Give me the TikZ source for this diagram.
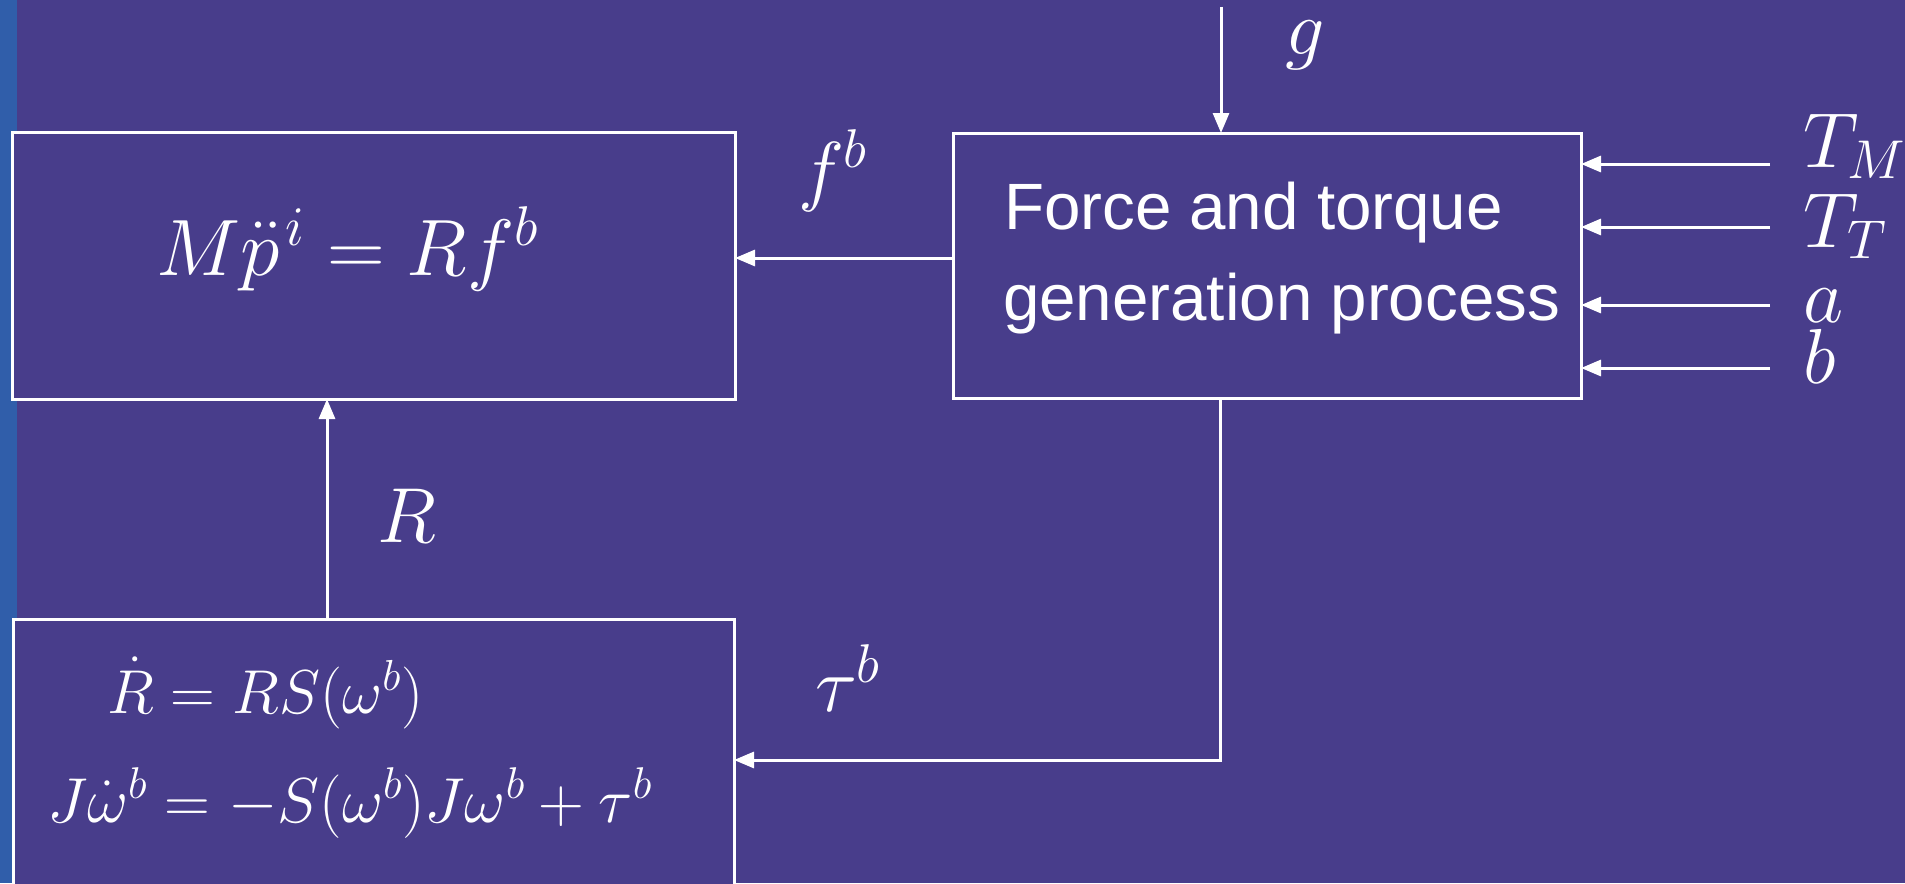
\RequirePackage{fix-cm}
\documentclass[tikz,border=0pt]{standalone}
\usepackage{amsmath}
\usepackage{fontspec}
\setsansfont{Liberation Sans}
\usetikzlibrary{arrows.meta}
\definecolor{bgmain}{RGB}{72,61,139}
\definecolor{bgstrip}{RGB}{48,94,170}
\begin{document}
\begin{tikzpicture}[x=1pt,y=-1pt,
  every node/.style={inner sep=0pt, outer sep=0pt, text=white},
  box/.style={draw=white, line width=3pt, rectangle, fill=bgmain},
  arr/.style={draw=white, line width=3pt, -{Triangle[length=20pt,width=16pt]}},
  lbl/.style={anchor=base west, font=\fontsize{78}{94}\selectfont},
  eqbig/.style={anchor=base west, font=\fontsize{80}{96}\selectfont},
  eqsmall/.style={anchor=base west, font=\fontsize{62}{74}\selectfont},
  eqsmallb/.style={anchor=base west, font=\fontsize{63.5}{76}\selectfont},
  sftext/.style={anchor=base west, font=\sffamily\fontsize{65.5}{91}\selectfont}]
\useasboundingbox (0,0) rectangle (1905,883);
\clip (0,0) rectangle (1905,883);
\fill[bgmain] (0,0) rectangle (1905,883);
\fill[bgstrip] (0,0) rectangle (17,883);
% boxes
\node[box, minimum width=723pt, minimum height=267pt] (dyn) at (373.5,265.5) {};
\node[box, minimum width=628pt, minimum height=265pt] (force) at (1267,265.5) {};
\node[box, minimum width=720.5pt, minimum height=332pt] (rot) at (373.75,785) {};
% box texts
\node[eqbig] (eqdyn) at (156,275) {$M\ddot{p}\vphantom{\ddot{p}}^{\mkern2mu i} = Rf^b$};
\node[sftext] (ft1) at (1004,229) {Force and torque};
\node[sftext] (ft2) at (1003,320) {generation process};
\node[eqsmall] (eqr1) at (107,713) {$\dot{R} = RS(\omega^b)$};
\node[eqsmallb] (eqr2) at (47,822) {$J{\dot{\omega}}^b = -S(\omega^b)J\omega^b + \tau^b$};
% labels
\node[lbl] (lfb) at (798,196) {$f^b$};
\node[lbl] (lg) at (1285,55) {$g$};
\node[lbl] (lTM) at (1803,167) {$T_M$};
\node[lbl] (lTT) at (1803,247) {$T_T$};
\node[lbl] (la) at (1803,322) {$a$};
\node[lbl] (lb) at (1803,383) {$b$};
\node[lbl] (lR) at (377,542) {$R$};
\node[lbl] (ltau) at (815,711) {$\tau^b$};
% connectors
\coordinate (gs) at (1221,7);
\draw[arr] (gs) -- (gs |- force.north);
\coordinate (fy) at (0,258);
\draw[arr] (force.west |- fy) -- (dyn.east |- fy);
\coordinate (iTM) at (1770,164);
\coordinate (iTT) at (1770,227);
\coordinate (ia) at (1770,305);
\coordinate (ib) at (1770,368);
\draw[arr] (iTM) -- (iTM -| force.east);
\draw[arr] (iTT) -- (iTT -| force.east);
\draw[arr] (ia) -- (ia -| force.east);
\draw[arr] (ib) -- (ib -| force.east);
\coordinate (tc) at (1220,760);
\draw[arr] (tc |- force.south) -- (tc) -- (rot.east |- tc);
\coordinate (rx) at (327,0);
\draw[arr] (rot.north -| rx) -- (dyn.south -| rx);
\end{tikzpicture}
\end{document}
